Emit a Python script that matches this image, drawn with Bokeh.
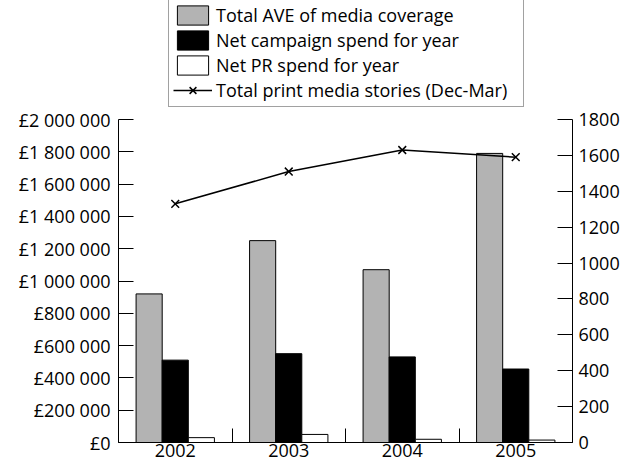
from bokeh.plotting import figure
from bokeh.models import Range1d, LinearAxis, FixedTicker, ColumnDataSource, Legend, LegendItem
from bokeh.transform import dodge
from bokeh.embed import file_html
from bokeh.resources import INLINE

# ---- data ----
years = ["2002", "2003", "2004", "2005"]
ave = [920000, 1250000, 1070000, 1790000]        # Total AVE of media coverage
campaign = [510000, 550000, 530000, 455000]      # Net campaign spend for year
pr = [30000, 50000, 20000, 15000]                # Net PR spend for year
stories = [1330, 1510, 1630, 1590]               # Total print media stories (Dec-Mar)

left_max = 2000000
right_max = 1800
left_ticks = list(range(0, left_max + 1, 200000))
right_ticks = list(range(0, right_max + 1, 200))

FONT = "Open Sans"
FS = "18px"

# ---- layout (pixels) ----
W, H = 630, 465
FRAME_LEFT, FRAME_RIGHT = 118, 572
FRAME_BOTTOM = 442
AXIS_TOP = 119                      # pixel row of the top ticks (left_max / right_max)
frame_h = FRAME_BOTTOM              # frame starts at top edge
scale = frame_h / (FRAME_BOTTOM - AXIS_TOP)

x = [i + 0.5 for i in range(len(years))]
src = ColumnDataSource(dict(x=x, ave=ave, campaign=campaign, pr=pr, stories=stories))

p = figure(width=W, height=H, output_backend="svg", toolbar_location=None,
           x_range=Range1d(0, len(years)), y_range=Range1d(0, left_max * scale),
           min_border_left=FRAME_LEFT, min_border_right=W - FRAME_RIGHT,
           min_border_top=0, min_border_bottom=H - FRAME_BOTTOM)
p.extra_y_ranges = {"stories": Range1d(0, right_max * scale)}
p.outline_line_color = None
p.grid.visible = False

# x axis: labels at group centres, ticks at group boundaries (minor ticks)
xa = p.xaxis[0]
xa.ticker = FixedTicker(ticks=x, minor_ticks=list(range(len(years) + 1)))
xa.major_label_overrides = {xi: yr for xi, yr in zip(x, years)}
xa.major_tick_in = 0
xa.major_tick_out = 0
xa.minor_tick_in = 14
xa.minor_tick_out = 0
xa.minor_tick_line_color = "black"
xa.major_label_standoff = 1

# left axis
ya = p.yaxis[0]
ya.ticker = FixedTicker(ticks=left_ticks)
ya.bounds = (0, left_max)
ya.major_label_overrides = {t: "£" + f"{t:,}".replace(",", " ") for t in left_ticks}
ya.major_tick_in = 15
ya.major_tick_out = 0
ya.minor_tick_line_color = None
ya.major_label_standoff = 8

# right axis
ra = LinearAxis(y_range_name="stories", ticker=FixedTicker(ticks=right_ticks))
ra.bounds = (0, right_max)
ra.major_tick_in = 15
ra.major_tick_out = 0
ra.minor_tick_line_color = None
ra.major_label_standoff = 6
p.add_layout(ra, "right")

for ax in (xa, ya, ra):
    ax.axis_line_color = "black"
    ax.major_label_text_font = FONT
    ax.major_label_text_font_size = FS
    ax.major_label_text_color = "black"
ya.major_tick_line_color = "black"
ra.major_tick_line_color = "black"
xa.major_tick_line_color = None

# bars
w = 0.23
r1 = p.vbar(x=dodge("x", -0.23), top="ave", width=w, source=src,
            fill_color="#b3b3b3", line_color="black", line_width=1)
r2 = p.vbar(x=dodge("x", 0.0), top="campaign", width=w, source=src,
            fill_color="black", line_color="black", line_width=1)
r3 = p.vbar(x=dodge("x", 0.23), top="pr", width=w, source=src,
            fill_color="white", line_color="black", line_width=1)

# line on right axis
r4 = p.line("x", "stories", source=src, y_range_name="stories",
            line_color="black", line_width=1.5)
r5 = p.scatter("x", "stories", source=src, y_range_name="stories",
               marker="x", size=11, line_color="black", line_width=1.5)

legend = Legend(items=[
    LegendItem(label="Total AVE of media coverage", renderers=[r1]),
    LegendItem(label="Net campaign spend for year", renderers=[r2]),
    LegendItem(label="Net PR spend for year", renderers=[r3]),
    LegendItem(label="Total print media stories (Dec-Mar)", renderers=[r4, r5]),
], location=(168 - FRAME_LEFT, FRAME_BOTTOM - 107))
legend.border_line_color = "#444444"
legend.border_line_width = 1
legend.background_fill_color = "white"
legend.background_fill_alpha = 1
legend.label_text_font = FONT
legend.label_text_font_size = FS
legend.label_text_color = "black"
legend.glyph_width = 39
legend.glyph_height = 24
legend.label_height = 20
legend.label_width = 303
legend.label_standoff = 4
legend.spacing = 1
legend.padding = 4
legend.margin = 0
p.add_layout(legend)

open("out.html", "w").write(file_html(p, INLINE))
